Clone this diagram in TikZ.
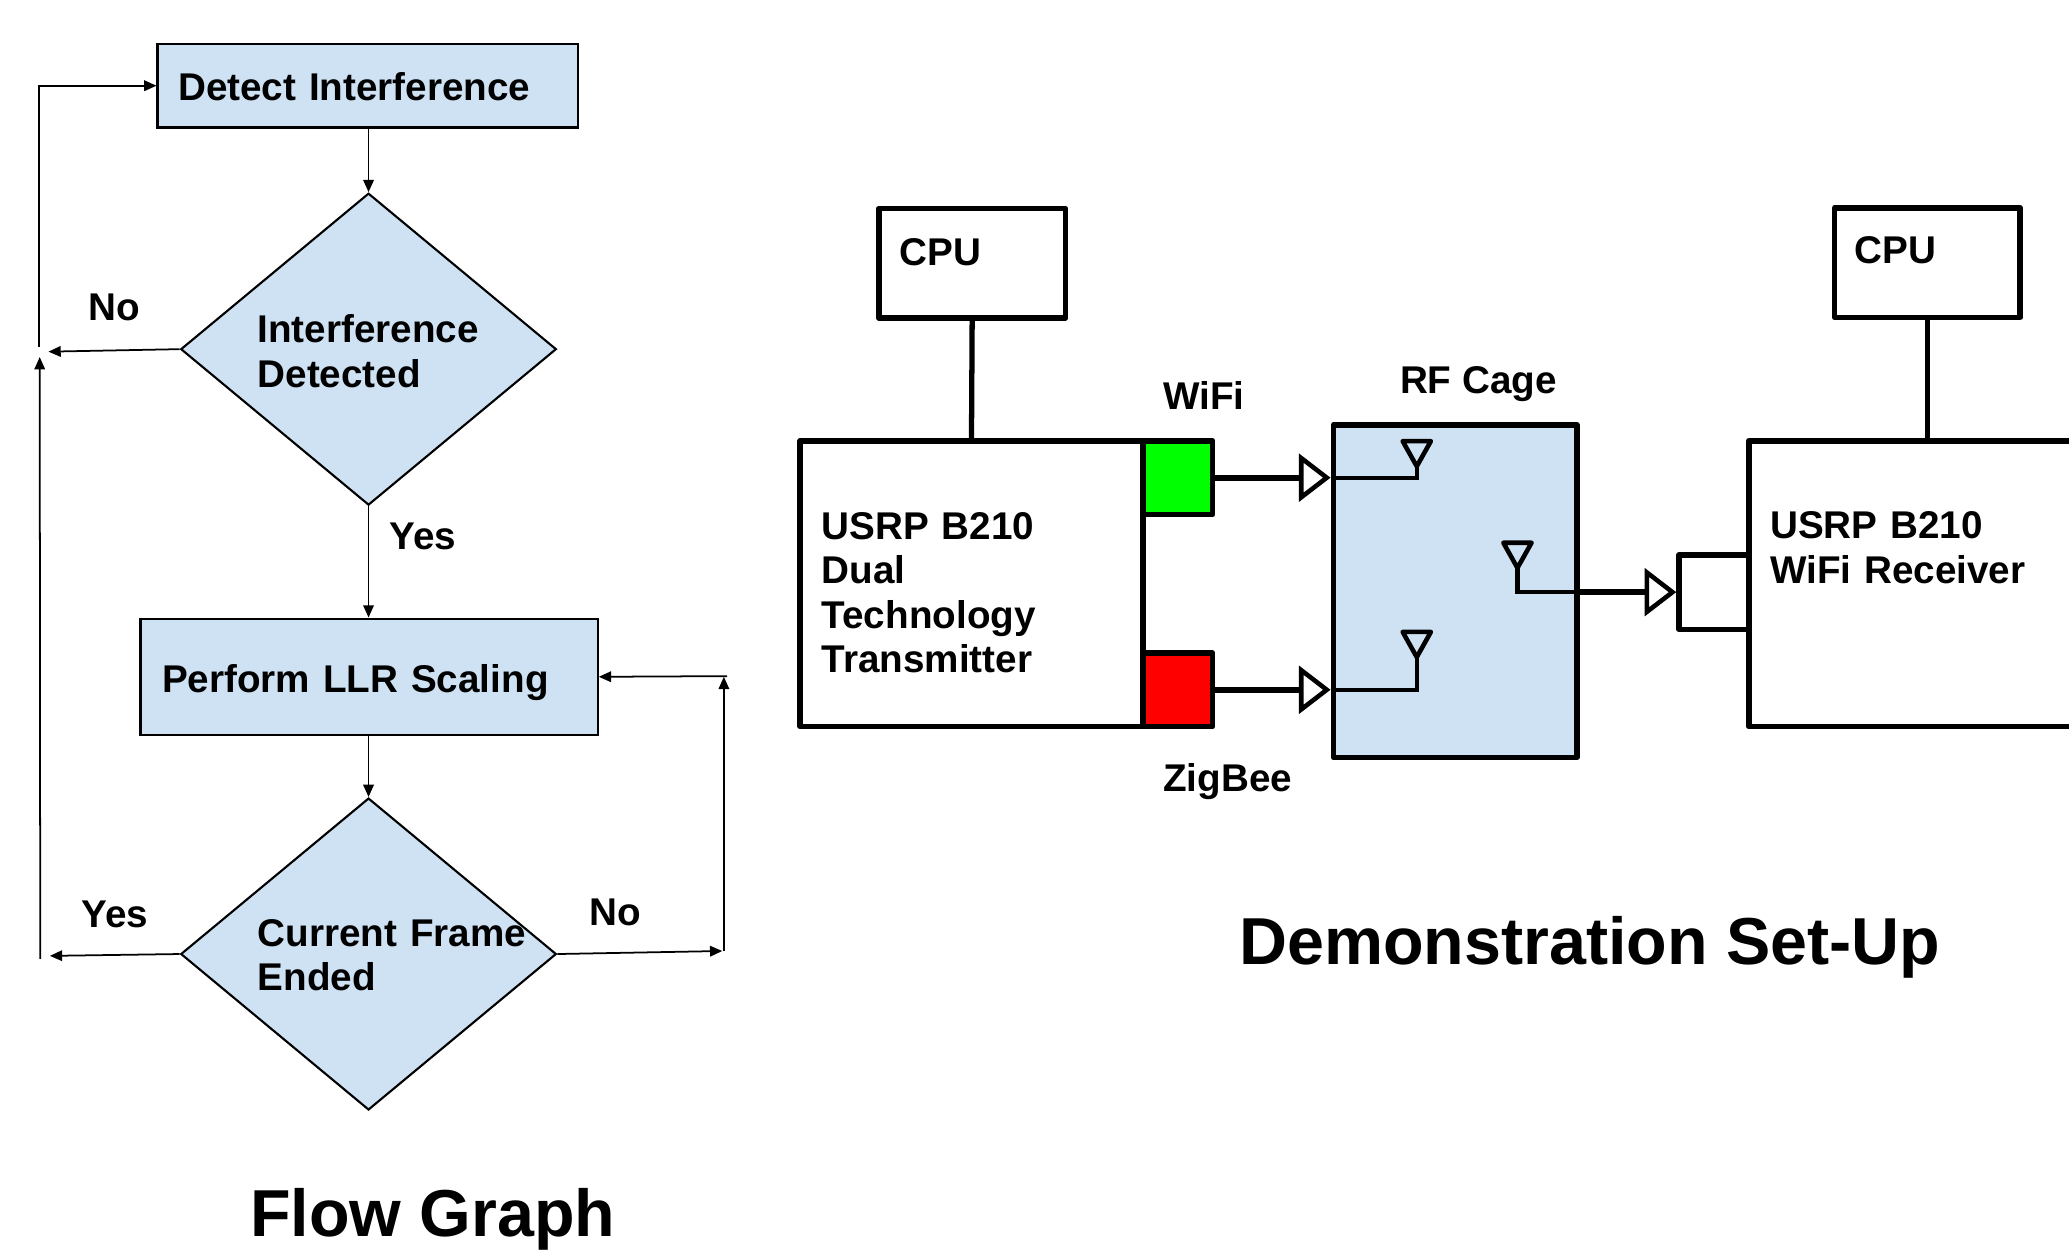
\documentclass[tikz,border=0pt]{standalone}
\usepackage{fontspec}
\setmainfont{Liberation Sans}
\usepackage{xcolor}
\usetikzlibrary{arrows.meta,positioning,shapes.geometric,calc,fit}
\definecolor{flowBlue}{RGB}{207,226,243}
\definecolor{wifiGreen}{RGB}{0,255,0}
\definecolor{zigRed}{RGB}{255,0,0}

\begin{document}
\begin{tikzpicture}[
  x=0.013195cm, y=-0.013195cm,
  font=\fontsize{11}{12.6}\selectfont\bfseries,
  fbox/.style={draw, line width=0.6pt, fill=flowBlue, inner sep=0pt},
  decision/.style={draw, diamond, line width=0.6pt, fill=flowBlue, inner sep=0pt,
    minimum width=3.757cm, minimum height=3.12cm},
  hw/.style={draw, line width=1.6pt, line join=round, inner sep=0pt},
  link/.style={line width=1.5pt},
  arrow/.style={-{Triangle[length=3.5pt,width=3pt]}, line width=0.5pt},
  feed/.style={-{Triangle[open,length=9pt,width=13.5pt,line width=1.3pt]}, line width=1.7pt},
  wire/.style={line width=1.2pt},
  ant/.style={line width=1.3pt, line join=round},
  txt/.style={inner sep=0pt, align=left, text width=5cm, anchor=base west},
  lbl/.style={inner sep=0pt},
  title/.style={font=\fontsize{18.9}{22}\selectfont\bfseries, inner sep=0pt, anchor=base west}
]
\useasboundingbox (0,0) rectangle (1568,948);
\clip (0,0) rectangle (1568,948);

% Flow graph nodes
\node[fbox, fit={(119.4,33.3) (438.3,96.6)}] (det) {};
\node[txt] (detT) at (134.5,75.8) {Detect Interference};

\node[decision] (d1) at (279.3,264.6) {};
\node[txt] (d1T) at (194.7,259.8) {Interference\\Detected};

\node[fbox, fit={(106.5,468.8) (453,557)}] (llr) {};
\node[txt] (llrT) at (122.3,524.6) {Perform LLR Scaling};

\node[decision] (d2) at (279.3,723) {};
\node[txt] (d2T) at (194.7,717.3) {Current Frame\\Ended};

% Loop corners
\coordinate (noA) at (36.7,266.5);
\coordinate (loopM) at (29.6,263);
\coordinate (loopU) at (30.1,270.6);
\coordinate (loopB) at (30.5,726.7);
\coordinate (yesA) at (37.8,724.4);
\coordinate (noB) at (547.4,720.7);
\coordinate (loopR) at (548.6,721);
\coordinate (loopRU) at (548.6,512.9);
\coordinate (loopRT) at (551,512.4);

% Flow arrows + labels
\draw[arrow] (d1.north |- det.south) -- (d1.north);
\draw[arrow] (d1.south) -- (d1.south |- llr.north)
  node[lbl, pos=0.27, right=0.2cm] (yes1) {Yes};
\draw[arrow] (d2.north |- llr.south) -- (d2.north);

\draw[arrow] (d1.west) -- (noA)
  node[lbl, midway, above=0.29cm] (no1) {No};
\draw[arrow] (loopM) |- (det.west);
\draw[arrow] (loopB) -- (loopU);

\draw[arrow] (d2.west) -- (yesA)
  node[lbl, midway, above=0.26cm] (yes2) {Yes};
\draw[arrow] (d2.east) -- (noB)
  node[lbl, pos=0.35, above=0.26cm] (no2) {No};
\draw[arrow] (loopR) -- (loopRU);
\draw[arrow] (loopRT) -- (llr.east);

% Set-up nodes
\node[hw, fit={(666,158) (807.5,241)}] (cpuA) {};
\node[txt] (cpuAT) at (681.3,200.9) {CPU};

\node[hw, fit={(606.5,334) (866,550.5)}] (tx) {};
\node[txt] (txT) at (622.2,408.9) {USRP B210\\Dual\\Technology\\Transmitter};
\node[hw, fill=wifiGreen, fit={(866,334) (919,390)}] (wifi) {};
\node[hw, fill=zigRed, fit={(866,495) (919,550.5)}] (zig) {};
\node[lbl, anchor=base west] (wifiL) at (881,310) {WiFi};
\node[lbl, anchor=base west] (zigL) at (881,600) {ZigBee};

\node[hw, fill=flowBlue, fit={(1010.5,322) (1195,574)}] (cage) {};
\node[lbl, anchor=base west] (cageL) at (1060.5,298) {RF Cage};

\node[hw, fit={(1325.3,334) (1610,550.5)}] (rx) {};
\node[hw, fit={(1272.5,420.5) (1325.3,477)}] (rxport) {};
\node[txt] (rxT) at (1341,408.4) {USRP B210\\WiFi Receiver};

\node[hw, fit={(1390.4,157.5) (1531,240.5)}] (cpuB) {};
\node[txt] (cpuBT) at (1405,199.5) {CPU};

% Antennas
\coordinate (antA) at (1073.7,353.4);
\coordinate (antB) at (1073.7,498);
\coordinate (antC) at (1150,430.4);
\foreach \a in {antA,antB,antC}
  \draw[ant] (\a) -- ++(-10.7,-19.1) -- ++(21.4,0) -- cycle;

% Cables
\draw[link] (cpuA.south) -- (tx.north);
\draw[link] (cpuB.south) -- (cpuB.south |- rx.north);
\draw[feed] (wifi.east) -- (wifi.east -| cage.west);
\draw[feed] (zig.east) -- (zig.east -| cage.west);
\draw[wire] (wifi.east -| cage.west) -| (antA);
\draw[wire] (zig.east -| cage.west) -| (antB);
\draw[wire] (antC) |- (rxport.west -| cage.east);
\draw[feed] (rxport.west -| cage.east) -- (rxport.west);

% Titles
\node[title] (flowTitle) at (189,937) {Flow Graph};
\node[title] (setupTitle) at (938.8,730.7) {Demonstration Set-Up};

\end{tikzpicture}
\end{document}
